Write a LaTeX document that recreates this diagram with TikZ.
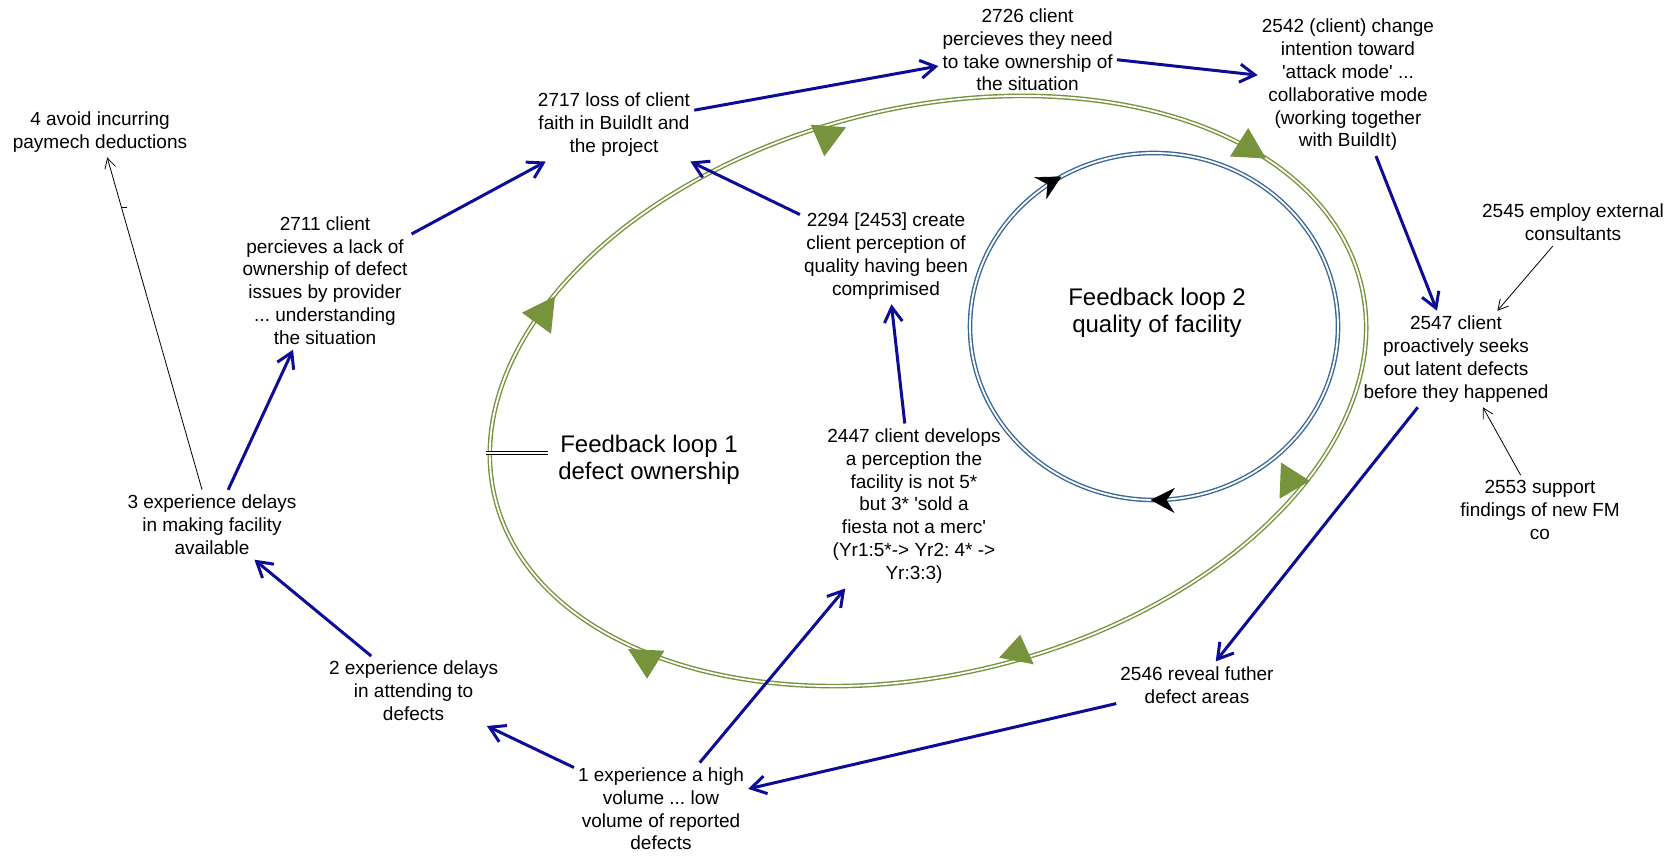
\documentclass[tikz,border=0pt]{standalone}
\usepackage{fontspec}
\setmainfont{Liberation Sans}
\usetikzlibrary{arrows.meta,decorations.markings}
\frenchspacing

\definecolor{linkblue}{RGB}{12,12,150}
\definecolor{loopgreen}{RGB}{119,147,60}
\definecolor{loopblue}{RGB}{58,103,154}

\tikzset{
  concept/.style={align=center, inner xsep=4pt, inner ysep=5pt,
    font=\fontsize{19}{22.8}\selectfont},
  looptitle/.style={align=center, inner sep=2pt,
    font=\fontsize{24}{26.7}\selectfont},
  link/.style={draw=linkblue, line width=3pt,
    -{Straight Barb[length=15pt,width=18pt]}},
  weaklink/.style={draw=black, line width=0.8pt,
    -{Straight Barb[length=10pt,width=11pt]}},
  ringline/.style={double=white, double distance=1.8pt, line width=1.4pt},
  loophead/.style={fill=loopgreen},
}

\begin{document}
\begin{tikzpicture}[x=1pt,y=-1pt]
  \useasboundingbox (0,0) rectangle (1679,858);

  % feedback loop 1
  \draw[loopgreen, ringline, rotate around={14:(928,391)}]
    (928,391) ellipse [x radius=446, y radius=283];
  \fill[loophead] (810.7,124.7) -- (846,127.3) -- (824.3,156.3) -- cycle;
  \fill[loophead] (522,312.7) -- (555,296.3) -- (551,333.7) -- cycle;
  \fill[loophead] (628,649) -- (664.4,650.7) -- (647.1,678.7) -- cycle;
  \fill[loophead] (1020.2,634.7) -- (999.1,657.7) -- (1033.7,664.3) -- cycle;
  \fill[loophead] (1281,462.5) -- (1310,481) -- (1279.5,498.7) -- cycle;
  \fill[loophead] (1248.2,128) -- (1230,156.5) -- (1266,158.5) -- cycle;

  % feedback loop 2
  \draw[loopblue, ringline] (1154,326.5) ellipse [x radius=184, y radius=173.5];
  \path[decoration={markings,
      mark=at position 0.253 with {\arrow[black]{Stealth[length=24pt,width=25pt,inset=8pt]}},
      mark=at position 0.664 with {\arrow[black]{Stealth[length=24pt,width=25pt,inset=8pt]}}},
    decorate] (1154,326.5) ellipse [x radius=184, y radius=173.5];

  \node[looptitle] (loop1) at (649,460) {Feedback loop 1\\defect ownership};
  \node[looptitle] (loop2) at (1157,313) {Feedback loop 2\\quality of facility};
  \coordinate (ringL) at (486,453);
  \draw[double, double distance=2.5pt, line width=0.8pt, shorten >=8pt]
    (ringL) -- (ringL -| loop1.west);

  % concepts
  \node[concept] (n4) at (100,132) {4 avoid incurring\\paymech deductions};
  \node[concept] (n2711) at (325,280.5) {2711 client\\percieves a lack of\\ownership of defect\\issues by provider\\... understanding\\the situation};
  \node[concept] (n3) at (212,524.7) {3 experience delays\\in making facility\\available};
  \node[concept] (n2) at (413.6,691) {2 experience delays\\in attending to\\defects};
  \node[concept] (n1) at (661,809) {1 experience a high\\volume ... low\\volume of reported\\defects};
  \node[concept] (n2717) at (614,124.7) {2717 loss of client\\faith in BuildIt and\\the project};
  \node[concept] (n2294) at (886,256) {2294 [2453] create\\client perception of\\quality having been\\comprimised};
  \node[concept] (n2447) at (914,506) {2447 client develops\\a perception the\\facility is not 5*\\but 3* \textquotesingle sold a\\fiesta not a merc\textquotesingle\\(Yr1:5*-> Yr2: 4* ->\\Yr:3:3)};
  \node[concept] (n2726) at (1027.6,50) {2726 client\\percieves they need\\to take ownership of\\the situation};
  \node[concept] (n2542) at (1348,85) {2542 (client) change\\intention toward\\\textquotesingle attack mode\textquotesingle\ ...\\collaborative mode\\(working together\\with BuildIt)};
  \node[concept] (n2545) at (1573,222.5) {2545 employ external\\consultants};
  \node[concept] (n2547) at (1456,359) {2547 client\\proactively seeks\\out latent defects\\before they happened};
  \node[concept] (n2553) at (1540,510) {2553 support\\findings of new FM\\co};
  \node[concept] (n2546) at (1197,685) {2546 reveal futher\\defect areas};

  % links
  \draw[link] (n1) -- (n2);
  \draw[link] (n2) -- (n3);
  \draw[link] (n3) -- (n2711);
  \draw[link] (n2711) -- (n2717);
  \draw[link] (n2717) -- (n2726);
  \draw[link] (n2726) -- (n2542);
  \draw[link] (n2542) -- (n2547);
  \draw[link] (n2547) -- (n2546);
  \draw[link] (n2546) -- (n1);
  \draw[link] (n1) -- (n2447);
  \draw[link] (n2447) -- (n2294);
  \draw[link] (n2294) -- (n2717);

  \draw[weaklink] (n3) -- coordinate[pos=0.85] (minus) (n4);
  \draw[line width=0.8pt] (minus) -- ++(6,0);
  \draw[weaklink] (n2545) -- (n2547);
  \draw[weaklink] (n2553) -- (n2547);
\end{tikzpicture}
\end{document}
